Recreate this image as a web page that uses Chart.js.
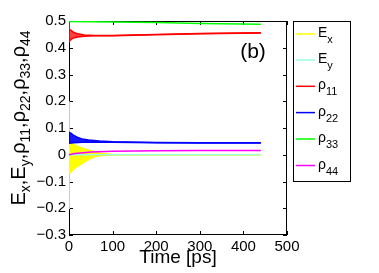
<!DOCTYPE html>
<html><head><meta charset="utf-8">
<script src="https://cdn.jsdelivr.net/npm/chart.js@4"></script>
<style>html,body{margin:0;padding:0;background:#fff;}canvas{display:block;}</style>
</head><body>
<canvas id="c" width="379" height="273"></canvas>
<script>
const xTickLabels = ['0','100','200','300','400','500'];
const yTickLabels = ['\u22120.3','\u22120.2','\u22120.1','0','0.1','0.2','0.3','0.4','0.5'];

const tEx     = [0, 0.3, 3, 8, 15, 27, 40, 50, 60, 75, 100, 440];
const exUpper = [0.2, 0.045, 0.045, 0.042, 0.035, 0.026, 0.02, 0.015, 0.01, 0.005, 0.001, 0];
const exLower = [-0.2, -0.07, -0.067, -0.058, -0.048, -0.036, -0.022, -0.013, -0.007, -0.003, -0.001, 0];

const tEy = [0, 440];
const ey  = [0, 0];

const tRho11     = [0, 0.5, 5, 10, 20, 35, 60, 100, 200, 300, 440];
const rho11Upper = [0.5, 0.468, 0.465, 0.458, 0.452, 0.448, 0.446, 0.446, 0.45, 0.453, 0.456];
const rho11Lower = [0.5, 0.424, 0.432, 0.436, 0.44, 0.443, 0.445, 0.445, 0.449, 0.452, 0.455];

const tRho22     = [0, 1, 5, 10, 20, 30, 45, 70, 100, 200, 300, 440];
const rho22Upper = [0.07, 0.083, 0.08, 0.073, 0.065, 0.059, 0.055, 0.051, 0.049, 0.046, 0.045, 0.045];
const rho22Lower = [0.07, 0.043, 0.044, 0.045, 0.046, 0.047, 0.047, 0.048, 0.047, 0.045, 0.044, 0.044];

const tRho33 = [0, 50, 100, 200, 300, 440];
const rho33  = [0.498, 0.497, 0.496, 0.494, 0.491, 0.488];

const tRho44 = [0, 10, 20, 50, 100, 200, 300, 440];
const rho44  = [0, 0.004, 0.006, 0.01, 0.013, 0.015, 0.016, 0.016];

const legendMain = ['E','E','\u03c1','\u03c1','\u03c1','\u03c1'];
const legendSub  = ['x','y','11','22','33','44'];
const colors = ['#ffff00','#99ffdd','#ff0000','#0000ff','#00ff00','#ff00ff'];
const fills  = ['#ffff00','#99ffdd','rgba(255,0,0,0.75)','rgba(0,0,255,0.9)','#00ff00','#ff00ff'];

const FONT = '"Liberation Sans", Arial, Helvetica, sans-serif';
const pts = (t, v) => t.map((x, i) => ({x, y: v[i]}));

const line = (data, ci, order, fill) => ({
  data, borderColor: colors[ci], backgroundColor: fills[ci], borderWidth: 1.5,
  pointRadius: 0, fill: fill || false, order, tension: 0
});

const datasets = [
  line(pts(tEx, exUpper), 0, 6),
  line(pts(tEx, exLower), 0, 6, '-1'),
  line(pts(tEy, ey), 1, 5),
  line(pts(tRho11, rho11Upper), 2, 4),
  line(pts(tRho11, rho11Lower), 2, 4, '-1'),
  line(pts(tRho22, rho22Upper), 3, 3),
  line(pts(tRho22, rho22Lower), 3, 3, '-1'),
  line(pts(tRho33, rho33), 4, 2),
  line(pts(tRho44, rho44), 5, 1)
];

function richWidth(ctx, parts, mainF, subF) {
  let w = 0;
  for (const p of parts) { ctx.font = p.sub ? subF : mainF; w += ctx.measureText(p.t).width; }
  return w;
}
function drawRich(ctx, parts, x, y, mainF, subF, subOff) {
  ctx.textAlign = 'left'; ctx.textBaseline = 'alphabetic';
  for (const p of parts) {
    ctx.font = p.sub ? subF : mainF;
    ctx.fillText(p.t, x, y + (p.sub ? subOff : 0));
    x += ctx.measureText(p.t).width;
  }
}

const boxPlugin = {
  id: 'box',
  beforeDatasetsDraw(chart) {
    const {ctx, chartArea: a, scales} = chart;
    ctx.save();
    ctx.strokeStyle = '#000'; ctx.lineWidth = 1;
    ctx.strokeRect(Math.round(a.left) + 0.5, Math.round(a.top) + 0.5,
      Math.round(a.right - a.left) - 1, Math.round(a.bottom - a.top) - 1);
    const L = 4;
    ctx.beginPath();
    scales.x.ticks.forEach(t => {
      const px = Math.round(scales.x.getPixelForValue(t.value)) + 0.5;
      ctx.moveTo(px, a.bottom); ctx.lineTo(px, a.bottom - L);
      ctx.moveTo(px, a.top); ctx.lineTo(px, a.top + L);
    });
    scales.y.ticks.forEach(t => {
      const py = Math.round(scales.y.getPixelForValue(t.value)) + 0.5;
      ctx.moveTo(a.left, py); ctx.lineTo(a.left + L, py);
      ctx.moveTo(a.right, py); ctx.lineTo(a.right - L, py);
    });
    ctx.stroke();
    ctx.restore();
  },
  afterDraw(chart) {
    const {ctx} = chart;
    ctx.save();
    ctx.fillStyle = '#000';
    ctx.font = '21px ' + FONT; ctx.textAlign = 'center'; ctx.textBaseline = 'middle';
    ctx.fillText('(b)', 253, 52);
    const parts = [];
    legendMain.forEach((m, i) => {
      if (i) parts.push({t: ','});
      parts.push({t: m}); parts.push({t: legendSub[i], sub: true});
    });
    const mainF = '20px ' + FONT, subF = '14px ' + FONT;
    const w = richWidth(ctx, parts, mainF, subF);
    ctx.translate(25, 118);
    ctx.rotate(-Math.PI / 2);
    drawRich(ctx, parts, -w / 2, 0, mainF, subF, 5);
    ctx.restore();
    ctx.save();
    ctx.strokeStyle = '#000'; ctx.lineWidth = 1;
    ctx.strokeRect(293.5, 21.5, 57, 160);
    const ys = [34, 60, 86.3, 112.6, 139, 165.5];
    legendMain.forEach((m, i) => {
      ctx.strokeStyle = colors[i]; ctx.lineWidth = 1.5;
      ctx.beginPath(); ctx.moveTo(296, ys[i]); ctx.lineTo(315, ys[i]); ctx.stroke();
      ctx.fillStyle = '#000';
      drawRich(ctx, [{t: m}, {t: legendSub[i], sub: true}], 318, ys[i] + 3,
        '14px ' + FONT, '11px ' + FONT, 6);
    });
    ctx.restore();
  }
};

new Chart(document.getElementById('c'), {
  type: 'line',
  data: { datasets },
  plugins: [boxPlugin],
  options: {
    responsive: false, animation: false, devicePixelRatio: 1,
    layout: { padding: { left: 0, top: 21, right: 92, bottom: 0 } },
    plugins: { legend: { display: false }, tooltip: { enabled: false } },
    scales: {
      x: {
        type: 'linear', min: 0, max: 500,
        grid: { display: false, drawTicks: false }, border: { display: false },
        ticks: { stepSize: 100, padding: 3, color: '#000', font: { family: FONT, size: 15 },
          maxRotation: 0, callback: (v, i) => xTickLabels[i] },
        title: { display: true, text: 'Time [ps]', color: '#000', font: { family: FONT, size: 19 },
          padding: { top: 0, bottom: 4 } },
        afterFit: s => { s.height = 38; }
      },
      y: {
        type: 'linear', min: -0.3, max: 0.5,
        grid: { display: false, drawTicks: false }, border: { display: false },
        ticks: { stepSize: 0.1, padding: 3, color: '#000', font: { family: FONT, size: 15 },
          callback: (v, i) => yTickLabels[i] },
        afterFit: s => { s.width = 69; }
      }
    }
  }
});
</script>
</body></html>
